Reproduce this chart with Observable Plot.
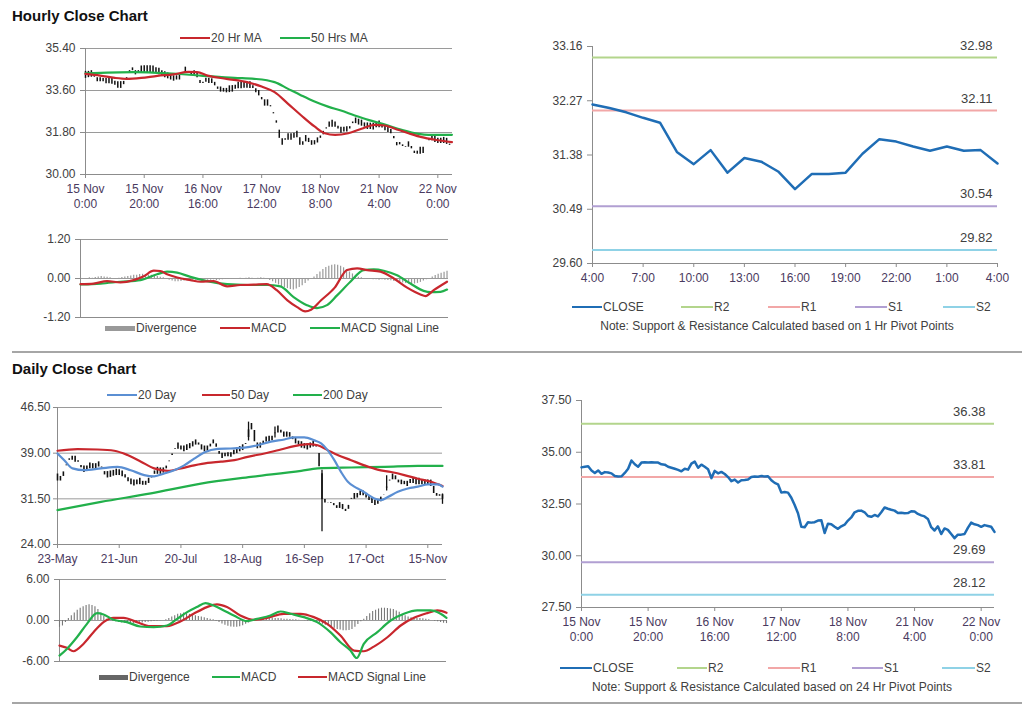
<!DOCTYPE html>
<html>
<head>
<meta charset="utf-8">
<script src="https://cdn.jsdelivr.net/npm/d3@7"></script>
<script src="https://cdn.jsdelivr.net/npm/@observablehq/plot@0.6"></script>
<style>
  html, body { margin: 0; padding: 0; background: #fff; }
  #root { position: relative; width: 1024px; height: 706px; overflow: hidden; font-family: "Liberation Sans", Arial, sans-serif; color: #404040; }
  .title { position: absolute; font-weight: bold; font-size: 15px; color: #111; }
  .lg { position: absolute; font-size: 12px; color: #404040; white-space: nowrap; line-height: 14px; }
  .sw { position: absolute; }
  .sep { position: absolute; height: 2px; background: #a6a6a6; }
  .note { position: absolute; font-size: 12px; color: #404040; white-space: nowrap; transform: translateX(-50%); }
</style>
</head>
<body>
<div id="root"></div>
<script>
// ---------------- DATA ----------------
// Hourly closes, 15 Nov 0:00 .. 22 Nov (trading hours), one per bar
const hourlyClose = [34.27,34.30,34.32,34.12,34.00,34.12,33.96,34.04,34.02,33.98,
33.85,33.83,33.84,34.00,34.20,34.60,34.42,34.30,34.50,34.52,
34.51,34.52,34.51,34.50,34.42,34.40,34.30,34.25,34.20,34.15,
34.08,34.20,34.16,34.45,34.55,34.25,34.40,34.30,34.18,33.75,
34.10,33.98,34.05,33.95,33.80,33.60,33.68,33.54,33.65,33.66,
33.68,33.80,33.83,33.82,33.85,33.83,33.84,33.65,33.52,33.45,
33.05,33.08,33.05,32.80,32.45,32.05,31.40,31.38,31.62,31.60,
31.62,31.70,31.72,31.10,31.55,31.52,31.40,31.30,31.42,31.50,
31.70,31.85,32.10,32.17,32.18,32.10,31.92,31.88,31.97,31.90,
32.10,32.33,32.27,32.22,32.18,32.06,32.08,32.05,32.06,32.15,
32.14,32.02,31.95,31.90,31.78,31.38,31.22,31.42,31.05,31.32,
31.25,31.05,30.85,31.02,31.02,31.05,31.35,31.60,31.52,31.48,
31.40,31.48,31.44,31.40,31.15];
const hourlyTickPos = [0,20,40,60,80,100,120];
const hourlyTickLabels = ["15 Nov\n0:00","15 Nov\n20:00","16 Nov\n16:00","17 Nov\n12:00","18 Nov\n8:00","21 Nov\n4:00","22 Nov\n0:00"];

// [bar, value]
const ma20Hr = [[0,34.31],[5,34.24],[10,34.14],[14,34.10],[19,34.14],[24.5,34.23],[30,34.29],[35,34.40],[38,34.39],[41.6,34.24],[48,34.10],[55,33.96],[60,33.77],[64.4,33.53],[69,33.03],[73.5,32.53],[78,32.06],[81.5,31.77],[85,31.70],[89.5,31.77],[94,31.96],[98.5,32.13],[102,32.10],[105.4,31.96],[110,31.77],[114.5,31.60],[119,31.49],[124.8,31.39]];
const ma50Hr = [[0,34.34],[16.5,34.39],[28,34.34],[39.3,34.24],[50.7,34.14],[57.5,34.10],[64.4,33.96],[69,33.67],[73.5,33.39],[78,33.13],[82.6,32.91],[87,32.74],[91.7,32.53],[96.3,32.34],[102,32.14],[107.7,31.91],[113.4,31.74],[116.8,31.70],[124.8,31.70]];

// Hourly MACD panel
const hrMacd = [[0,-0.175],[4.5,-0.155],[9,-0.08],[13.5,-0.12],[18,-0.05],[21.4,0.07],[24.8,0.24],[27,0.23],[29.3,0.13],[32.7,0.03],[37.2,-0.05],[40.6,-0.10],[45,-0.08],[49.6,-0.24],[54,-0.20],[58.6,-0.19],[63,-0.175],[66.4,-0.36],[70,-0.67],[73.3,-0.88],[76,-1.01],[78,-0.96],[81.4,-0.67],[86,-0.28],[90.2,0.26],[93.6,0.31],[97,0.26],[101.5,0.21],[106,0.0],[110.5,-0.28],[115,-0.49],[116.7,-0.54],[119.5,-0.36],[124,-0.10]];
const hrSignal = [[0,-0.185],[6.8,-0.155],[13.5,-0.10],[20.3,-0.05],[25.9,0.13],[29.3,0.21],[32.7,0.18],[37.2,0.05],[42.8,-0.08],[49.6,-0.175],[56.4,-0.20],[63.1,-0.20],[67.6,-0.24],[72.1,-0.57],[76.6,-0.82],[80,-0.91],[83.4,-0.82],[86.8,-0.52],[91.3,-0.10],[95.8,0.26],[99.2,0.28],[102.6,0.24],[107.1,0.10],[111.6,-0.155],[116.1,-0.38],[118.4,-0.42],[121.8,-0.41],[124,-0.34]];
const hrDivergence = [0.01,0,-0.01,0.02,0.01,0.03,0.05,
0.06,0.05,0.04,0.02,0.0,-0.02,0.01,0.03,0.05,
0.06,0.08,0.1,0.1,0.12,0.13,0.12,0.1,0.1,0.08,0.06,0.04,0.02,
-0.02,-0.05,-0.08,-0.1,-0.1,-0.09,-0.08,-0.07,
-0.06,-0.05,-0.05,-0.06,-0.05,-0.04,-0.05,-0.05,-0.04,-0.06,-0.05,-0.04,-0.03,-0.03,-0.02,-0.01,
0,0.01,0,0.01,0.02,0.01,0,0.01,0.02,0.01,-0.02,
-0.06,-0.1,-0.15,-0.2,-0.25,-0.28,-0.31,-0.34,-0.35,
-0.32,-0.28,-0.22,-0.15,-0.08,-0.02,0.05,
0.12,0.2,0.28,0.34,0.38,0.41,0.42,0.41,0.38,0.33,0.27,
0.2,0.14,0.08,0.04,0.02,0,
-0.02,-0.03,-0.04,-0.04,-0.05,-0.04,-0.05,-0.06,-0.07,-0.09,
-0.1,-0.12,-0.14,-0.15,-0.17,-0.18,-0.17,-0.15,-0.12,-0.08,-0.04,0.0,
0.05,0.09,0.13,0.16,0.19,0.22];

// 1 Hr pivot panel (last 24 hours)
const hourClose24 = [32.21,32.15,32.08,31.99,31.91,31.43,31.23,31.46,31.09,31.33,31.27,31.11,30.82,31.07,31.07,31.09,31.40,31.64,31.60,31.52,31.45,31.52,31.45,31.46,31.24];
const hour24TickPos = [0,3,6,9,12,15,18,21,24];
const hour24TickLabels = ["4:00","7:00","10:00","13:00","16:00","19:00","22:00","1:00","4:00"];
const pivotNames = ["R2","R1","S1","S2"];
const hourPivotLevels = [32.98, 32.11, 30.54, 29.82];
const hourPivotTicks = [29.60, 30.49, 31.38, 32.27, 33.16];

// 24 Hr pivot panel
const dayPivotLevels = [36.38, 33.81, 29.69, 28.12];
const dayPivotTicks = [27.5, 30, 32.5, 35, 37.5];

// Daily closes 23-May .. 22-Nov
const dailyClose = [35.0,34.6,36.5,37.5,38.4,37.9,38.1,37.2,36.4,36.3,
36.8,37.0,36.7,37.0,37.3,36.0,35.4,35.5,35.6,35.8,
35.9,35.7,35.5,34.9,34.4,34.2,34.0,34.4,34.3,33.8,
34.3,34.6,35.5,36.1,36.1,36.0,36.3,37.0,38.3,39.2,
40.2,40.1,39.6,39.8,40.0,40.3,40.6,40.9,40.1,39.8,
39.6,39.9,40.6,41.1,39.4,38.7,38.4,39.0,38.5,38.9,
39.3,39.5,39.8,40.0,41.0,43.4,43.3,40.3,40.1,40.4,
41.1,41.4,41.2,41.6,42.9,42.9,42.2,41.9,42.2,41.8,
41.1,40.9,40.4,40.3,40.0,40.1,40.4,40.6,39.5,36.2,
30.8,31.4,30.3,31.3,29.8,30.5,30.3,30.0,29.2,31.0,
32.0,31.8,32.2,32.6,32.2,31.8,31.3,31.0,30.7,31.2,
31.6,32.7,34.0,35.0,35.2,34.7,34.0,34.4,33.8,34.1,
34.6,34.4,34.3,34.4,34.0,34.3,34.0,34.1,31.8,32.5,
31.6,32.0];
// [bar, low, high] of the longest shadows
const dailyWicks = [[90,26.1,36.2],[65,41.0,44.1],[74,41.5,43.3],[112,32.8,35.3],[131,30.6,32.3]];
const dailyTickPos = [0,21,42,63,84,105,126];
const dailyTickLabels = ["23-May","21-Jun","20-Jul","18-Aug","16-Sep","17-Oct","15-Nov"];
const ma20Day = [[0,38.95],[2.3,37.85],[5.1,36.5],[9.1,36.2],[14.8,36.5],[20.4,36.75],[24.9,36.2],[29.5,35.4],[32.9,35.2],[36.3,35.66],[39.7,36.2],[43.1,37.0],[46.5,38.1],[49.9,39.1],[54.5,39.7],[59,39.77],[63.6,39.9],[68.1,40.3],[72.6,40.9],[77.2,41.25],[80.6,41.6],[84,41.6],[87.4,41.1],[89.7,40.6],[91.9,39.5],[94.2,37.85],[96.5,35.9],[98.8,34.3],[101,33.5],[103.3,32.9],[105.6,32.2],[107.8,31.56],[110.1,31.3],[112.4,31.8],[115.8,32.65],[119.2,33.2],[122.6,33.5],[126,33.86],[129.4,33.86],[131,33.5]];
const ma50Day = [[0,39.4],[6.8,39.66],[13.6,39.6],[19.3,39.4],[23.8,38.7],[28.4,37.6],[32.9,36.5],[37.5,36.1],[42,36.5],[46.5,37.0],[51.1,37.4],[55.6,37.6],[60.2,37.85],[64.7,38.4],[70.4,38.95],[76,39.6],[80.6,40.15],[85.1,40.5],[88.5,40.3],[91.9,39.5],[95.3,38.7],[99.9,37.85],[104.4,37.0],[108.9,36.3],[113.5,35.9],[118,35.4],[122.6,34.8],[127.1,34.3],[131,33.6]];
const ma200Day = [[0,29.64],[14.8,31.0],[31.8,32.4],[48.8,34.0],[65.8,35.1],[82.9,36.1],[88.5,36.5],[99.9,36.65],[111.4,36.75],[122.6,36.9],[131,36.9]];

// Daily MACD panel
const dayMacd = [[0,-5.14],[2.5,-4.16],[5.9,-2.45],[9.3,-0.49],[12.7,1.08],[14.9,0.88],[18.3,0.1],[22.8,-0.24],[27.3,-0.88],[31.9,-0.98],[36.4,-0.73],[39.8,0.24],[43.2,1.22],[46.5,1.96],[49.4,2.55],[52.2,2.2],[55.6,1.47],[59,0.73],[63.5,-0.1],[66.9,0.24],[71.4,0.73],[74.8,1.32],[78.2,0.98],[82.7,0.49],[87.2,-0.24],[91.7,-1.71],[95.1,-3.18],[98.5,-4.4],[100.6,-5.49],[103,-3.43],[107.6,-1.71],[112.1,0],[116.6,0.98],[121.1,1.47],[125.6,1.47],[129,0.98],[131,0.39]];
const daySignal = [[0,-3.67],[2.5,-4.0],[4.7,-4.5],[8.1,-3.43],[11.5,-1.71],[14.9,-0.24],[18.3,0.39],[21.7,0.39],[26.2,-0.24],[30.7,-0.83],[36.4,-0.83],[40.9,-0.15],[45.4,0.98],[49.9,1.96],[53.3,2.35],[56.7,1.96],[61.2,0.73],[65.8,0.1],[70.3,0.39],[75.9,0.98],[81.6,0.98],[86.1,0.49],[90.6,-0.49],[95.1,-2.2],[99.7,-4.4],[103,-4.5],[106.4,-3.82],[111,-2.45],[115.5,-0.73],[120,0.39],[124.5,1.08],[127.9,1.47],[131,1.13]];
const dayDivergence = [-1.0,-0.8,-0.3,
0.3,0.7,1.1,1.5,1.8,2.0,2.2,2.3,2.2,2.0,
1.6,1.1,0.6,0.2,0.0,
-0.1,-0.2,-0.3,-0.35,-0.4,-0.45,-0.5,-0.5,-0.45,-0.4,-0.35,-0.3,-0.25,-0.2,-0.15,-0.1,-0.05,0.0,0.1,
0.3,0.5,0.7,0.9,1.0,1.1,1.0,0.9,0.8,0.7,0.6,0.5,0.4,0.3,0.2,0.1,
-0.1,-0.3,-0.5,-0.7,-0.85,-0.95,-1.0,-1.0,-0.9,-0.75,-0.55,-0.35,-0.15,
0.05,0.15,0.2,0.25,0.3,0.35,0.35,0.3,0.3,0.25,0.2,0.2,0.15,0.1,0.1,0.05,0.0,-0.05,-0.1,-0.15,-0.2,-0.3,-0.4,
-0.55,-0.7,-0.85,-1.0,-1.15,-1.3,-1.4,-1.5,-1.5,-1.45,-1.3,-1.0,
-0.6,-0.2,0.2,0.6,1.0,1.3,1.5,1.7,1.8,1.8,1.75,1.7,1.6,1.4,1.2,0.9,
0.7,0.5,0.4,0.35,0.3,0.3,0.25,0.2,
0.1,0.0,-0.1,-0.2,-0.3,-0.4,-0.45];

// ---------------- DRAWING ----------------
const root = document.getElementById("root");
const FONT = '"Liberation Sans", Arial, sans-serif';
const AX = "#8c8c8c", GRID = "#9a9a9a", TXT = "#404040";
const RED = "#c8272d", GREEN = "#22b04b", BLUE = "#1f6db5", LBLUE = "#5b8fd3";
const pivotColors = ["#b3d58c", "#f2a7a7", "#b19fd2", "#8fd2e6"];

function place(fx0, fy0, fx1, fy1, opts) {
  const L = Math.round(fx0) - 80, T = Math.round(fy0) - 20;
  const W = Math.round(fx1) - L + 30, H = Math.round(fy1) - T + 50;
  const svg = Plot.plot({
    width: W, height: H,
    marginLeft: Math.round(fx0) - L, marginTop: Math.round(fy0) - T,
    marginRight: 30, marginBottom: 50,
    style: { fontFamily: FONT, fontSize: "12px", background: "transparent", overflow: "visible", color: TXT },
    ...opts
  });
  svg.style.position = "absolute";
  svg.style.left = L + "px";
  svg.style.top = T + "px";
  root.appendChild(svg);
}

function yAxis(ticks, size, pad) {
  return Plot.axisY({ ticks, label: null, tickFormat: d => d.toFixed(2), tickSize: size, tickPadding: pad, stroke: AX, fill: TXT, fontSize: 12 });
}
function xAxis(pos, labels) {
  return Plot.axisX({ ticks: pos, label: null, tickFormat: d => labels[pos.indexOf(d)], tickSize: 4, tickPadding: 3, stroke: AX, fill: "#4a3a60", fontSize: 12, lineHeight: 1.3 });
}
const pair = { x: d => d[0], y: d => d[1], curve: "monotone-x" };

// Panel 1: Hourly close bars + MAs
place(85, 48, 452, 174, {
  x: { domain: [0, 125], label: null },
  y: { domain: [30, 35.4], label: null },
  marks: [
    Plot.gridY([31.8, 33.6, 35.4], { stroke: GRID, strokeOpacity: 1 }),
    Plot.ruleX([0], { stroke: AX }),
    Plot.ruleY([30], { stroke: AX }),
    yAxis([30, 31.8, 33.6, 35.4], 5, 5),
    xAxis(hourlyTickPos, hourlyTickLabels),
    Plot.ruleX(hourlyClose, {
      x: (d, i) => i,
      y1: (d, i) => Math.min(i ? hourlyClose[i - 1] : d, d),
      y2: (d, i) => Math.max(i ? hourlyClose[i - 1] : d, d),
      stroke: "#111", strokeWidth: 1.5, insetTop: -3.5, insetBottom: -3.5
    }),
    Plot.line(ma50Hr, { ...pair, stroke: GREEN, strokeWidth: 2.2 }),
    Plot.line(ma20Hr, { ...pair, stroke: RED, strokeWidth: 2.2 })
  ]
});

// Panel 2: Hourly MACD
place(80, 239, 448, 317, {
  x: { domain: [0, 124.5], axis: null },
  y: { domain: [-1.2, 1.2], label: null },
  marks: [
    Plot.gridY([1.2, 0], { stroke: GRID, strokeOpacity: 1 }),
    Plot.ruleX([0], { stroke: AX }),
    Plot.ruleY([-1.2], { stroke: AX }),
    yAxis([-1.2, 0, 1.2], 5, 5),
    Plot.ruleX(hrDivergence, { x: (d, i) => i, y1: 0, y2: d => d, stroke: "#999", strokeWidth: 1.2 }),
    Plot.line(hrSignal, { ...pair, stroke: GREEN, strokeWidth: 2.2 }),
    Plot.line(hrMacd, { ...pair, stroke: RED, strokeWidth: 2.2 })
  ]
});

function pivotPanel(frame, xDomain, closeData, yTicks, levels, tickPos, tickLabels, labelDx) {
  const lv = levels.map((v, i) => ({ v, name: pivotNames[i], c: pivotColors[i] }));
  place(frame[0], frame[1], frame[2], frame[3], {
    x: { domain: xDomain, label: null },
    y: { domain: [yTicks[0], yTicks[yTicks.length - 1]], label: null },
    marks: [
      Plot.ruleX([xDomain[0]], { stroke: AX }),
      Plot.ruleY([yTicks[0]], { stroke: AX }),
      yAxis(yTicks, 5, 5),
      xAxis(tickPos, tickLabels),
      Plot.ruleY(lv, { y: "v", stroke: "c", strokeWidth: 2 }),
      Plot.text(lv, { y: "v", x: xDomain[1], text: d => d.v.toFixed(2), textAnchor: "end", dx: labelDx, dy: -12, fontSize: 13, fill: TXT }),
      Plot.line(closeData, { x: (d, i) => i, y: d => d, stroke: BLUE, strokeWidth: 2.5 })
    ]
  });
}

// Panel 3: 1 Hr pivots
pivotPanel([592, 46, 997, 263], [0, 24], hourClose24, hourPivotTicks, hourPivotLevels, hour24TickPos, hour24TickLabels, -5);
// Panel 6: 24 Hr pivots
pivotPanel([581, 400, 994, 607], [0, 124], hourlyClose, dayPivotTicks, dayPivotLevels, hourlyTickPos, hourlyTickLabels, -9);

// Panel 4: Daily close
place(57, 407, 442, 544, {
  x: { domain: [0, 131], label: null },
  y: { domain: [24, 46.5], label: null },
  marks: [
    Plot.gridY([31.5, 39, 46.5], { stroke: GRID, strokeOpacity: 1 }),
    Plot.ruleX([0], { stroke: AX }),
    Plot.ruleY([24], { stroke: AX }),
    yAxis([24, 31.5, 39, 46.5], 4, 3),
    xAxis(dailyTickPos, dailyTickLabels),
    Plot.ruleX(dailyClose, {
      x: (d, i) => i,
      y1: (d, i) => Math.min(i ? dailyClose[i - 1] : d, d),
      y2: (d, i) => Math.max(i ? dailyClose[i - 1] : d, d),
      stroke: "#111", strokeWidth: 1.6, insetTop: -3.5, insetBottom: -3.5
    }),
    Plot.ruleX(dailyWicks, { x: d => d[0], y1: d => d[1], y2: d => d[2], stroke: "#111", strokeWidth: 1.3 }),
    Plot.line(ma200Day, { ...pair, stroke: GREEN, strokeWidth: 2.2 }),
    Plot.line(ma50Day, { ...pair, stroke: RED, strokeWidth: 2.2 }),
    Plot.line(ma20Day, { ...pair, stroke: LBLUE, strokeWidth: 2.2 })
  ]
});

// Panel 5: Daily MACD
place(59, 579, 446, 661, {
  x: { domain: [0, 131], axis: null },
  y: { domain: [-6, 6], label: null },
  marks: [
    Plot.gridY([6, 0], { stroke: GRID, strokeOpacity: 1 }),
    Plot.ruleX([0], { stroke: AX }),
    Plot.ruleY([-6], { stroke: AX }),
    yAxis([-6, 0, 6], 5, 5),
    Plot.ruleX(dayDivergence, { x: (d, i) => i, y1: 0, y2: d => d, stroke: "#777", strokeWidth: 1.1 }),
    Plot.line(daySignal, { ...pair, stroke: RED, strokeWidth: 2.2 }),
    Plot.line(dayMacd, { ...pair, stroke: GREEN, strokeWidth: 2.2 })
  ]
});

// ---------------- TEXT, LEGENDS, SEPARATORS ----------------
function add(cls, css, text) {
  const d = document.createElement("div");
  d.className = cls;
  Object.assign(d.style, css);
  if (text != null) d.textContent = text;
  root.appendChild(d);
  return d;
}
function legend(x1, x2, y, color, thick, label) {
  add("sw", { left: x1 + "px", top: (y - thick / 2) + "px", width: (x2 - x1) + "px", height: thick + "px", background: color });
  add("lg", { left: (x2 + 1) + "px", top: (y - 7) + "px" }, label);
}

add("title", { left: "12px", top: "7px" }, "Hourly Close Chart");
add("title", { left: "12px", top: "360px" }, "Daily Close Chart");
add("sep", { left: "12px", top: "351px", width: "1010px" });
add("sep", { left: "12px", top: "702px", width: "1010px" });

legend(180, 210, 38, RED, 2.5, "20 Hr MA");
legend(280, 310, 38, GREEN, 2.5, "50 Hrs MA");

legend(105, 135, 328, "#999", 5, "Divergence");
legend(220, 250, 328, RED, 2.5, "MACD");
legend(310, 340, 328, GREEN, 2.5, "MACD Signal Line");

const pivLegendHour = [[572, 602, "CLOSE", BLUE], [681, 713, "R2", pivotColors[0]], [768, 800, "R1", pivotColors[1]], [855, 887, "S1", pivotColors[2]], [943, 975, "S2", pivotColors[3]]];
pivLegendHour.forEach(d => legend(d[0], d[1], 307, d[3], 2.5, d[2]));
add("note", { left: "777px", top: "319px" }, "Note: Support & Resistance Calculated based on 1 Hr Pivot Points");

legend(107, 137, 395, LBLUE, 2.5, "20 Day");
legend(202, 230, 395, RED, 2.5, "50 Day");
legend(293, 322, 395, GREEN, 2.5, "200 Day");

legend(99, 128, 677, "#666", 5, "Divergence");
legend(212, 240, 677, GREEN, 2.5, "MACD");
legend(298, 327, 677, RED, 2.5, "MACD Signal Line");

const pivLegendDay = [[560, 592, "CLOSE", BLUE], [677, 707, "R2", pivotColors[0]], [768, 800, "R1", pivotColors[1]], [852, 883, "S1", pivotColors[2]], [942, 975, "S2", pivotColors[3]]];
pivLegendDay.forEach(d => legend(d[0], d[1], 668, d[3], 2.5, d[2]));
add("note", { left: "772px", top: "680px" }, "Note: Support & Resistance Calculated based on 24 Hr Pivot Points");
</script>
</body>
</html>
